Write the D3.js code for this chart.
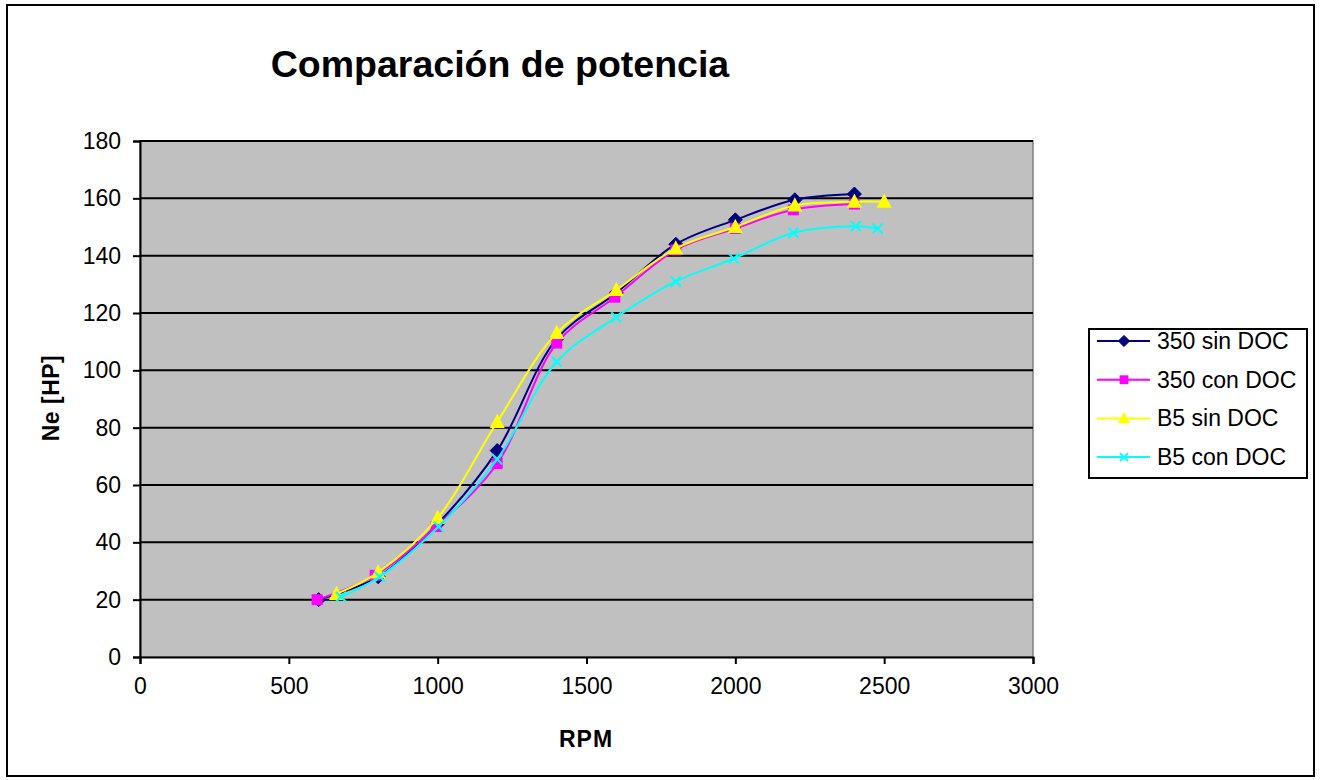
<!DOCTYPE html>
<html><head><meta charset="utf-8">
<script src="https://cdn.jsdelivr.net/npm/d3@7"></script>
<style>body{margin:0;background:#fff;} svg{display:block;font-family:"Liberation Sans",Arial,sans-serif;}</style>
</head><body>
<svg id="c" width="1321" height="780"></svg>
<script>
const seriesNames = ["350 sin DOC","350 con DOC","B5 sin DOC","B5 con DOC"];
const colors = ["#000080","#FF00FF","#FFFF00","#00FFFF"];
const markers = ["diamond","square","triangle","x"];
const rpm350sin = [600,800,1000,1200,1400,1600,1800,2000,2200,2400];
const ne350sin  = [20,28,46.5,72,111,127,144,152.5,159.5,161.5];
const rpm350con = [595,790,995,1200,1400,1595,1800,2000,2195,2400];
const ne350con  = [20,28.5,45.5,67.5,109.5,125.5,142,149.5,156,158];
const rpmB5sin  = [660,800,1000,1200,1400,1600,1800,2000,2200,2400,2500];
const neB5sin   = [22,29.5,48.5,82,113,128,142.5,150,157.5,158.8,158.8];
const rpmB5con  = [675,805,1003,1200,1400,1600,1800,1995,2195,2405,2478];
const neB5con   = [21,28,45.5,69,103,118.5,131,139,148,150.3,149.5];
const xTicks = [0,500,1000,1500,2000,2500,3000];
const yTicks = [0,20,40,60,80,100,120,140,160,180];

const data = [
  rpm350sin.map((r,i)=>({x:r,y:ne350sin[i]})),
  rpm350con.map((r,i)=>({x:r,y:ne350con[i]})),
  rpmB5sin.map((r,i)=>({x:r,y:neB5sin[i]})),
  rpmB5con.map((r,i)=>({x:r,y:neB5con[i]}))
];

const svg = d3.select("#c");
const L=140,R=1033,T=141,B=657;
const x = d3.scaleLinear().domain([0,3000]).range([L,R]);
const y = d3.scaleLinear().domain([0,180]).range([B,T]);

svg.append("rect").attr("x",7).attr("y",5).attr("width",1307).attr("height",771)
  .attr("fill","#fff").attr("stroke","#000").attr("stroke-width",2);

svg.append("rect").attr("x",L).attr("y",T).attr("width",R-L).attr("height",B-T)
  .attr("fill","#C0C0C0").attr("stroke","#808080").attr("stroke-width",1.5);

svg.append("g").selectAll("line").data(yTicks.filter(d=>d>0)).join("line")
  .attr("x1",L).attr("x2",R).attr("y1",d=>y(d)).attr("y2",d=>y(d))
  .attr("stroke","#000").attr("stroke-width",2);

const fs = 23;
const yAxis = svg.append("g").attr("transform",`translate(${L},0)`)
  .call(d3.axisLeft(y).tickValues(yTicks).tickSize(7).tickPadding(12).tickFormat(d3.format("d")));
const xAxis = svg.append("g").attr("transform",`translate(0,${B})`)
  .call(d3.axisBottom(x).tickValues(xTicks).tickSize(7).tickPadding(14).tickFormat(d3.format("d")));
[yAxis,xAxis].forEach(a=>{
  a.select(".domain").attr("stroke","#000").attr("stroke-width",2);
  a.selectAll(".tick line").attr("stroke","#000").attr("stroke-width",2);
  a.selectAll("text").attr("font-size",fs).attr("fill","#000").attr("font-family","Liberation Sans, Arial, sans-serif");
});

const line = d3.line().x(d=>x(d.x)).y(d=>y(d.y)).curve(d3.curveCatmullRom.alpha(0.5));

function drawMarker(g, type, color, cx, cy, scale){
  scale = scale||1;
  if(type==="diamond"){
    const s=7*scale;
    g.append("path").attr("d",`M${cx},${cy-s}L${cx+s},${cy}L${cx},${cy+s}L${cx-s},${cy}Z`).attr("fill",color).attr("stroke",color);
  } else if(type==="square"){
    const s=5.5*scale;
    g.append("rect").attr("x",cx-s).attr("y",cy-s).attr("width",2*s).attr("height",2*s).attr("fill",color);
  } else if(type==="triangle"){
    const s=7.5*scale;
    g.append("path").attr("d",`M${cx},${cy-s*1.1}L${cx+s},${cy+s*0.8}L${cx-s},${cy+s*0.8}Z`).attr("fill",color);
  } else {
    const s=5*scale;
    g.append("path").attr("d",`M${cx-s},${cy-s}L${cx+s},${cy+s}M${cx-s},${cy+s}L${cx+s},${cy-s}`).attr("stroke",color).attr("stroke-width",2).attr("fill","none");
  }
}

data.forEach((d,i)=>{
  const g = svg.append("g");
  g.append("path").datum(d).attr("d",line).attr("fill","none").attr("stroke",colors[i]).attr("stroke-width",2);
  d.forEach(p=>drawMarker(g, markers[i], colors[i], x(p.x), y(p.y)));
});

svg.append("text").attr("x",500).attr("y",77).attr("text-anchor","middle")
  .attr("font-size",37.5).attr("font-weight","bold").text("Comparación de potencia");
svg.append("text").attr("transform","translate(59,398) rotate(-90)").attr("text-anchor","middle")
  .attr("font-size",23).attr("font-weight","bold").attr("letter-spacing",0.5).text("Ne [HP]");
svg.append("text").attr("x",586).attr("y",747).attr("text-anchor","middle")
  .attr("font-size",23).attr("font-weight","bold").attr("letter-spacing",1).text("RPM");

const lg = svg.append("g");
lg.append("rect").attr("x",1089).attr("y",329).attr("width",218).attr("height",149)
  .attr("fill","#fff").attr("stroke","#000").attr("stroke-width",2);
seriesNames.forEach((n,i)=>{
  const cy = 341 + i*38.7;
  lg.append("line").attr("x1",1097).attr("x2",1150).attr("y1",cy).attr("y2",cy).attr("stroke",colors[i]).attr("stroke-width",2);
  drawMarker(lg, markers[i], colors[i], 1124, cy, 0.8);
  lg.append("text").attr("x",1157).attr("y",cy+8).attr("font-size",fs).text(n);
});
</script>
</body></html>
